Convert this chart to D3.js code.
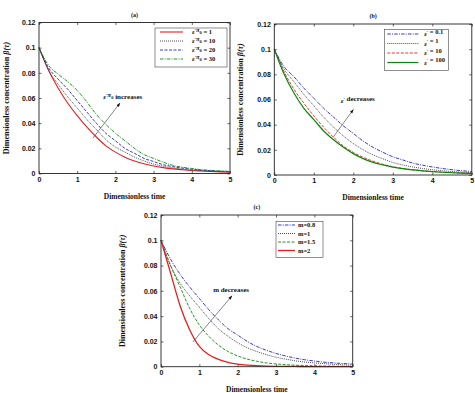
<!DOCTYPE html>
<html>
<head>
<meta charset="utf-8">
<script src="https://cdn.jsdelivr.net/npm/d3@7"></script>
<style>
body { margin: 0; background: #fff; }
.tick text { font-family: "Liberation Sans", Arial, sans-serif; font-weight: bold; font-size: 7px; fill: #111; }
.lab { font-family: "Liberation Serif", "Times New Roman", serif; font-weight: bold; font-size: 7.5px; fill: #111; }
.leg { font-family: "Liberation Serif", "Times New Roman", serif; font-weight: bold; font-size: 6.5px; fill: #111; }
</style>
</head>
<body>
<div id="chart"></div>
<script>
// dimensionless time grid
var time = [0, 0.25, 0.5, 0.75, 1, 1.25, 1.5, 1.75, 2, 2.25, 2.5, 2.75, 3, 3.25, 3.5, 3.75, 4, 4.25, 4.5, 4.75, 5];

// panel (a): eps' pi0
var aPi1  = [0.1, 0.082, 0.068, 0.056, 0.046, 0.037, 0.029, 0.022, 0.017, 0.013, 0.010, 0.0078, 0.006, 0.0047, 0.0037, 0.003, 0.0024, 0.002, 0.0016, 0.0013, 0.001];
var aPi10 = [0.1, 0.082, 0.071, 0.061, 0.052, 0.043, 0.035, 0.027, 0.021, 0.017, 0.013, 0.010, 0.0075, 0.0058, 0.0045, 0.0035, 0.0028, 0.0022, 0.0018, 0.0015, 0.0012];
var aPi20 = [0.1, 0.084, 0.075, 0.067, 0.058, 0.049, 0.040, 0.032, 0.026, 0.020, 0.016, 0.012, 0.0095, 0.007, 0.0055, 0.0043, 0.0034, 0.0027, 0.0022, 0.0018, 0.0015];
var aPi30 = [0.1, 0.086, 0.079, 0.073, 0.066, 0.057, 0.047, 0.039, 0.032, 0.026, 0.020, 0.015, 0.012, 0.009, 0.0065, 0.005, 0.004, 0.003, 0.0025, 0.002, 0.0017];

// panel (b): eps'
var bEps01  = [0.1, 0.086, 0.078, 0.069, 0.061, 0.053, 0.046, 0.039, 0.033, 0.027, 0.022, 0.018, 0.0145, 0.012, 0.0095, 0.0078, 0.0064, 0.0052, 0.0042, 0.0034, 0.0028];
var bEps1   = [0.1, 0.084, 0.074, 0.064, 0.055, 0.046, 0.038, 0.031, 0.025, 0.020, 0.016, 0.0128, 0.010, 0.008, 0.0064, 0.0052, 0.0042, 0.0034, 0.0028, 0.0023, 0.0019];
var bEps10  = [0.1, 0.082, 0.068, 0.057, 0.047, 0.038, 0.030, 0.023, 0.018, 0.014, 0.011, 0.0085, 0.0066, 0.0052, 0.0042, 0.0034, 0.0028, 0.0023, 0.0019, 0.0016, 0.0014];
var bEps100 = [0.1, 0.080, 0.065, 0.053, 0.044, 0.035, 0.028, 0.022, 0.017, 0.013, 0.010, 0.008, 0.0063, 0.005, 0.004, 0.0033, 0.0027, 0.0022, 0.0018, 0.0015, 0.0013];

// panel (c): m
var cM08 = [0.1, 0.085, 0.073, 0.063, 0.054, 0.045, 0.037, 0.030, 0.025, 0.020, 0.016, 0.013, 0.0105, 0.0085, 0.0068, 0.0055, 0.0045, 0.0036, 0.003, 0.0025, 0.0021];
var cM1  = [0.1, 0.080, 0.066, 0.056, 0.047, 0.038, 0.030, 0.024, 0.019, 0.015, 0.012, 0.0095, 0.0075, 0.006, 0.0047, 0.0037, 0.003, 0.0024, 0.0019, 0.0015, 0.0012];
var cM15 = [0.1, 0.080, 0.063, 0.046, 0.033, 0.024, 0.017, 0.012, 0.0085, 0.006, 0.0043, 0.003, 0.0022, 0.0016, 0.0012, 0.0009, 0.0007, 0.0005, 0.0004, 0.0003, 0.0002];
var cM2  = [0.1, 0.074, 0.048, 0.029, 0.016, 0.0095, 0.0058, 0.0035, 0.0021, 0.0013, 0.0008, 0.0005, 0.0003, 0.0002, 0.0002, 0.0001, 0.0001, 0.0001, 0.0001, 0.0001, 0.0001];

var xTicks = [0, 1, 2, 3, 4, 5];
var yTicks = [0, 0.02, 0.04, 0.06, 0.08, 0.1, 0.12];
var aLabels = ["1", "10", "20", "30"];
var bLabels = ["0.1", "1", "10", "100"];
var cLabels = ["m=0.8", "m=1", "m=1.5", "m=2"];

var red = "#e3201e", blue = "#2121c8", green = "#0b880b", black = "#222";
var solid = null, dotted = "1,1", dashed = "3,1.5", dashdot = "3.5,1.2,1,1.2";

var width = 475, height = 393;
var svg = d3.select("#chart").append("svg")
  .attr("width", width)
  .attr("height", height);

var defs = svg.append("defs");
defs.append("marker")
  .attr("id", "arrow")
  .attr("viewBox", "0 0 10 10")
  .attr("refX", 9).attr("refY", 5)
  .attr("markerWidth", 7).attr("markerHeight", 7)
  .attr("orient", "auto")
  .append("path")
  .attr("d", "M0,1.5 L10,5 L0,8.5 Z")
  .attr("fill", "#111");

var panels = [
  {
    title: "(a)", left: 39, top: 22.5, w: 191, h: 151, yLab: -33,
    series: [
      {values: aPi1, color: red, dash: solid, sw: 1.1},
      {values: aPi10, color: black, dash: dotted, sw: 0.8},
      {values: aPi20, color: blue, dash: dashed, sw: 0.9},
      {values: aPi30, color: green, dash: dashdot, sw: 0.9}
    ],
    legend: {x: 116, y: 5.5, w: 72, h: 39, rows: [11.5, 20.5, 29.5, 38.5], lx0: 5, lx1: 28, tx: 37},
    labels: aLabels, labelKind: "pi",
    note: {text: "increases", kind: "pi", tx: 1.68, ty: 0.059, from: [1.41, 0.028], to: [2.12, 0.056]}
  },
  {
    title: "(b)", left: 274.3, top: 24, w: 197.5, h: 151, yLab: -34,
    series: [
      {values: bEps01, color: blue, dash: dashdot, sw: 0.9},
      {values: bEps1, color: black, dash: dotted, sw: 0.8},
      {values: bEps10, color: red, dash: dashed, sw: 0.9},
      {values: bEps100, color: green, dash: solid, sw: 1.2}
    ],
    legend: {x: 110, y: 5.5, w: 64, h: 41, rows: [12, 21.5, 31, 40.5], lx0: 3, lx1: 34, tx: 40},
    labels: bLabels, labelKind: "eps",
    note: {text: "decreases", kind: "eps", tx: 1.68, ty: 0.057, from: [1.49, 0.030], to: [2.0, 0.052]}
  },
  {
    title: "(c)", left: 161, top: 215, w: 191.7, h: 151.7, yLab: -39,
    series: [
      {values: cM08, color: blue, dash: dashdot, sw: 0.9},
      {values: cM1, color: black, dash: dotted, sw: 0.8},
      {values: cM15, color: green, dash: dashed, sw: 0.9},
      {values: cM2, color: red, dash: solid, sw: 1.3}
    ],
    legend: {x: 115, y: 6.5, w: 47, h: 36, rows: [12, 20.5, 29, 37.5], lx0: 2, lx1: 19, tx: 22},
    labels: cLabels, labelKind: "plain",
    note: {text: "m decreases", kind: "plain", tx: 1.36, ty: 0.059, from: [0.83, 0.0195], to: [1.85, 0.056]}
  }
];

// writes eps' / eps' pi0 prefix as tspans
function mathPrefix(text, kind) {
  if (kind === "eps" || kind === "pi") {
    text.append("tspan").style("font-style", "italic").text("ε");
    text.append("tspan").attr("dy", -2.5).style("font-size", "4.5px").text("′");
    text.append("tspan").attr("dy", 2.5).text("");
  }
  if (kind === "pi") {
    text.append("tspan").style("font-style", "italic").text("π");
    text.append("tspan").attr("dy", 1.8).style("font-size", "4.5px").text("0");
    text.append("tspan").attr("dy", -1.8).text("");
  }
}

panels.forEach(function (p) {
  var g = svg.append("g").attr("transform", "translate(" + p.left + "," + p.top + ")");

  var x = d3.scaleLinear().domain([0, 5]).range([0, p.w]);
  var y = d3.scaleLinear().domain([0, 0.12]).range([p.h, 0]);

  g.append("rect")
    .attr("width", p.w).attr("height", p.h)
    .attr("fill", "#fff");

  // axes, matlab style inward ticks on all sides
  g.append("g").attr("transform", "translate(0," + p.h + ")")
    .call(d3.axisBottom(x).tickValues(xTicks).tickSizeInner(-2.5).tickSizeOuter(0).tickPadding(3.5).tickFormat(d3.format("d")));
  g.append("g")
    .call(d3.axisLeft(y).tickValues(yTicks).tickSizeInner(-2.5).tickSizeOuter(0).tickPadding(3.5)
      .tickFormat(function (d, i) { return d === 0 ? "0" : String(+d.toFixed(2)); }));
  g.append("g")
    .call(d3.axisTop(x).tickValues(xTicks).tickSizeInner(-2.5).tickSizeOuter(0).tickFormat(""));
  g.append("g").attr("transform", "translate(" + p.w + ",0)")
    .call(d3.axisRight(y).tickValues(yTicks).tickSizeInner(-2.5).tickSizeOuter(0).tickFormat(""));
  g.selectAll(".domain").remove();
  g.selectAll(".tick line").attr("stroke", "#222").attr("stroke-width", 0.7);

  var line = d3.line()
    .x(function (d, i) { return x(time[i]); })
    .y(function (d) { return y(d); })
    .curve(d3.curveMonotoneX);

  p.series.forEach(function (s) {
    g.append("path")
      .datum(s.values)
      .attr("d", line)
      .attr("fill", "none")
      .attr("stroke", s.color)
      .attr("stroke-width", s.sw)
      .attr("stroke-dasharray", s.dash);
  });

  g.append("rect")
    .attr("width", p.w).attr("height", p.h)
    .attr("fill", "none")
    .attr("stroke", "#222")
    .attr("stroke-width", 0.9);

  // annotation arrow
  g.append("line")
    .attr("x1", x(p.note.from[0])).attr("y1", y(p.note.from[1]))
    .attr("x2", x(p.note.to[0])).attr("y2", y(p.note.to[1]))
    .attr("stroke", "#333").attr("stroke-width", 0.6)
    .attr("marker-end", "url(#arrow)");
  var nt = g.append("text").attr("class", "leg")
    .attr("x", x(p.note.tx)).attr("y", y(p.note.ty))
    .style("font-size", "7px");
  mathPrefix(nt, p.note.kind);
  nt.append("tspan").text((p.note.kind === "plain" ? "" : " ") + p.note.text);

  // legend
  var L = p.legend;
  var lg = g.append("g").attr("transform", "translate(" + L.x + "," + L.y + ")");
  lg.append("rect")
    .attr("width", L.w).attr("height", L.h)
    .attr("fill", "#fff").attr("stroke", "#444").attr("stroke-width", 0.6);
  p.series.forEach(function (s, i) {
    var ry = L.rows[i] - L.y - 2;
    lg.append("line")
      .attr("x1", L.lx0).attr("x2", L.lx1)
      .attr("y1", ry).attr("y2", ry)
      .attr("stroke", s.color).attr("stroke-width", s.sw)
      .attr("stroke-dasharray", s.dash);
    var t = lg.append("text").attr("class", "leg")
      .attr("x", L.tx).attr("y", ry + 2.2);
    mathPrefix(t, p.labelKind);
    t.append("tspan").text(p.labelKind === "plain" ? p.labels[i] : " = " + p.labels[i]);
  });

  // titles and axis labels
  g.append("text").attr("class", "lab")
    .attr("x", p.w / 2).attr("y", -6)
    .attr("text-anchor", "middle")
    .style("font-size", "6px")
    .text(p.title);
  g.append("text").attr("class", "lab")
    .attr("x", p.w / 2 + 0).attr("y", p.h + 25)
    .attr("text-anchor", "middle")
    .text("Dimensionless time");
  var yl = g.append("text").attr("class", "lab")
    .attr("transform", "translate(" + p.yLab + "," + (p.h / 2) + ") rotate(-90)")
    .attr("text-anchor", "middle")
    .attr("dy", "0.35em")
    .style("font-size", "8px");
  yl.append("tspan").text("Dimensionless concentration ");
  yl.append("tspan").style("font-style", "italic").text("β(τ)");
});
</script>
</body>
</html>
